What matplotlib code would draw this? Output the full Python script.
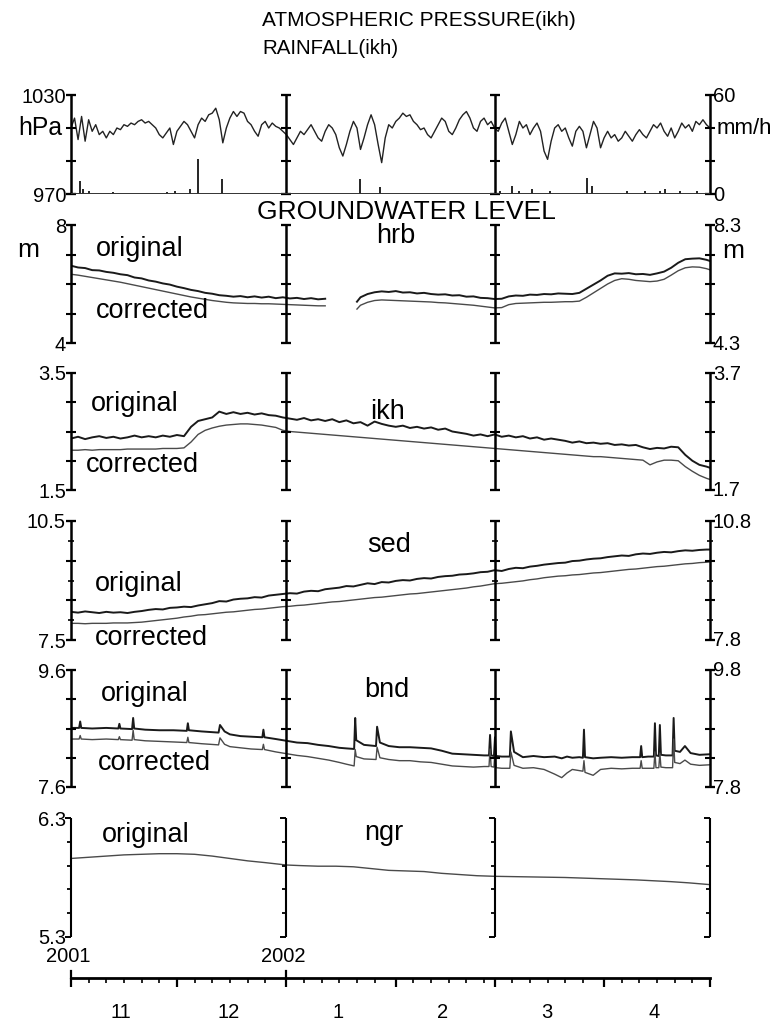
import numpy as np
import matplotlib
matplotlib.use("Agg")
import matplotlib.pyplot as plt

plt.rcParams['font.family'] = ['Liberation Sans', 'DejaVu Sans']

# ---------------- data (days since 2001-11-01) ----------------
pressure_days = list(range(182))
pressure_hpa = [1010,1016,1003,1017,1002,1015,1008,1012,1006,1008,
                1004,1008,1006,1010,1009,1012,1011,1013,1012,1014,
                1015,1013,1014,1012,1010,1006,1004,1007,1010,1000,
                1008,1011,1014,1012,1008,1004,1012,1016,1014,1018,
                1019,1022,1015,1001,1010,1016,1020,1017,1020,1019,
                1014,1012,1008,1005,1012,1014,1010,1013,1011,1010,
                1008,1006,1003,1000,1004,1008,1006,1009,1012,1008,
                1004,1002,1008,1012,1010,1006,998,993,1000,1008,
                1014,1010,997,1004,1012,1018,1012,1000,989,1004,
                1012,1010,1014,1016,1019,1017,1018,1014,1012,1009,
                1010,1006,1004,1008,1012,1016,1014,1008,1006,1010,
                1015,1018,1020,1016,1010,1008,1014,1016,1012,1014,
                1010,1008,1013,1016,1008,1000,1006,1014,1010,1012,
                1006,1010,1013,1008,996,991,1002,1010,1012,1008,
                1010,1004,999,1008,1011,1008,998,1006,1014,1010,
                998,1004,1008,1004,1006,1002,1004,1008,1005,1002,
                1006,1009,1006,1004,1008,1012,1010,1013,1008,1005,
                1010,1004,1008,1013,1010,1012,1008,1014,1012,1015,
                1012,1010]

rain_days = [2.5, 3.5, 5, 11.8, 27.3, 29.5, 33.7, 36.1, 42.9, 81.8, 87.5, 121.5,
             125, 127, 130.7, 135.7, 146.3, 147.7, 157.6, 162.6, 166.8, 168.2, 172.5, 177.4]
rain_mm = [8, 3, 2, 1, 1, 2, 3, 21, 9, 9, 4, 2, 5, 2, 3, 2, 10, 5, 2, 2, 2, 3, 2, 2]

nan = float('nan')
hrb_days = [0,2,4,6,8,10,12,14,16,18,20,22,24,26,28,30,32,34,36,38,40,42,44,46,48,50,
            52,54,56,58,60,62,64,66,68,70,72,76,81,82,84,86,88,90,92,94,96,98,100,102,
            104,106,108,110,112,114,116,118,120,122,124,126,128,130,132,134,136,138,140,
            142,144,146,148,150,152,154,156,158,160,162,164,166,168,170,172,174,176,178,180,181]
hrb_original = [6.62,6.56,6.54,6.47,6.46,6.41,6.38,6.33,6.30,6.22,6.19,6.12,6.08,6.02,5.98,5.91,
                5.86,5.80,5.76,5.70,5.67,5.62,5.60,5.57,5.59,5.55,5.58,5.54,5.57,5.52,5.55,5.51,
                5.53,5.49,5.52,5.48,5.50,nan,5.40,5.55,5.66,5.72,5.75,5.73,5.76,5.71,5.72,5.68,
                5.70,5.66,5.64,5.65,5.61,5.62,5.57,5.58,5.53,5.52,5.49,5.50,5.58,5.61,5.60,5.64,
                5.63,5.66,5.65,5.68,5.67,5.66,5.70,5.84,5.98,6.12,6.28,6.36,6.35,6.37,6.33,6.34,
                6.31,6.36,6.42,6.55,6.72,6.84,6.86,6.87,6.82,6.78]
hrb_corrected = [6.33,6.30,6.26,6.22,6.18,6.14,6.10,6.06,6.01,5.96,5.91,5.86,5.81,5.76,5.71,5.66,
                 5.61,5.56,5.52,5.48,5.44,5.41,5.38,5.36,5.35,5.34,5.34,5.33,5.33,5.32,5.31,5.30,
                 5.29,5.28,5.27,5.26,5.26,nan,5.15,5.28,5.38,5.44,5.46,5.45,5.44,5.43,5.42,5.41,
                 5.40,5.39,5.37,5.36,5.34,5.32,5.30,5.28,5.25,5.22,5.19,5.20,5.30,5.34,5.35,5.36,
                 5.37,5.38,5.38,5.39,5.40,5.40,5.42,5.55,5.70,5.85,6.00,6.12,6.18,6.16,6.12,6.10,
                 6.08,6.10,6.16,6.30,6.45,6.55,6.58,6.57,6.52,6.48]

even_days = list(range(0, 181, 2)) + [181]
ikh_original = [2.38,2.41,2.37,2.40,2.42,2.39,2.41,2.38,2.40,2.43,2.40,2.42,2.40,2.43,2.41,2.44,2.42,
                2.58,2.68,2.71,2.74,2.84,2.80,2.83,2.80,2.82,2.79,2.81,2.78,2.77,2.74,2.72,2.70,
                2.73,2.69,2.71,2.68,2.71,2.66,2.69,2.64,2.66,2.60,2.67,2.63,2.60,2.58,2.60,2.56,
                2.58,2.55,2.57,2.53,2.55,2.50,2.48,2.46,2.43,2.45,2.42,2.45,2.41,2.43,2.40,2.42,
                2.38,2.40,2.36,2.38,2.36,2.34,2.31,2.33,2.30,2.31,2.29,2.30,2.27,2.28,2.26,2.27,
                2.23,2.20,2.22,2.21,2.24,2.23,2.10,2.00,1.93,1.90,1.88]
ikh_corrected = [2.18,2.18,2.19,2.18,2.19,2.19,2.19,2.19,2.20,2.20,2.20,2.20,2.20,2.21,2.21,2.21,2.22,
                 2.32,2.45,2.52,2.56,2.59,2.61,2.62,2.63,2.63,2.62,2.61,2.59,2.57,2.52,2.50,
                 2.49,2.48,2.47,2.46,2.45,2.44,2.43,2.42,2.41,2.40,2.39,2.38,2.37,2.36,2.35,2.34,
                 2.33,2.32,2.31,2.30,2.29,2.28,2.27,2.26,2.25,2.24,2.23,2.22,2.21,
                 2.20,2.19,2.18,2.17,2.16,2.15,2.14,2.13,2.12,2.11,2.10,2.09,2.08,2.07,2.07,2.06,
                 2.05,2.04,2.03,2.02,2.01,1.93,1.98,2.01,2.01,2.00,1.90,1.82,1.75,1.70,1.68]

sed_original = [8.21,8.19,8.22,8.20,8.18,8.21,8.19,8.20,8.18,8.21,8.23,8.26,8.28,8.27,8.31,8.32,
                8.34,8.33,8.37,8.40,8.43,8.48,8.47,8.52,8.54,8.55,8.58,8.57,8.62,8.64,8.66,8.68,
                8.67,8.72,8.74,8.73,8.78,8.80,8.82,8.86,8.85,8.89,8.93,8.91,8.96,8.95,8.99,9.01,
                9.00,9.04,9.06,9.05,9.09,9.11,9.12,9.15,9.16,9.18,9.21,9.22,9.26,9.24,9.29,9.32,
                9.31,9.35,9.37,9.40,9.42,9.44,9.45,9.49,9.50,9.53,9.55,9.56,9.59,9.61,9.63,9.62,
                9.66,9.68,9.67,9.70,9.72,9.71,9.74,9.76,9.75,9.77,9.78,9.78]
sed_corrected = [7.92,7.92,7.91,7.92,7.92,7.92,7.93,7.93,7.93,7.94,7.95,7.97,7.99,8.01,8.03,8.05,
                 8.08,8.10,8.13,8.14,8.16,8.18,8.20,8.21,8.23,8.25,8.27,8.28,8.30,8.32,8.34,8.35,
                 8.37,8.38,8.40,8.42,8.44,8.46,8.47,8.49,8.51,8.53,8.55,8.57,8.58,8.60,8.62,8.64,
                 8.66,8.67,8.69,8.71,8.73,8.75,8.77,8.79,8.81,8.84,8.86,8.89,8.92,8.93,8.95,8.97,
                 8.99,9.02,9.04,9.07,9.09,9.11,9.12,9.14,9.15,9.17,9.19,9.20,9.22,9.24,9.26,9.28,
                 9.29,9.31,9.33,9.35,9.36,9.38,9.40,9.42,9.43,9.45,9.46,9.47]

bnd_days = [0,2.3,2.6,2.9,6,10,13.4,13.7,14.0,17.3,17.6,17.9,21,25,29,32.8,33.1,33.4,37,
            41.8,42.2,43.5,45,48,51,54.2,54.5,54.8,58,61,64,67,70,73,76,78,80.2,80.5,80.8,
            83,86.4,86.7,87.5,90,93,96,99,102,105,108,111,114,117,118.4,118.7,119.0,119.8,
            120.1,120.4,122,124.3,124.6,125.5,128,131,134,137,139,140.5,142,144,145.0,145.3,
            145.6,147.9,150,153,156,159,161.2,161.5,161.8,163.5,165.1,165.4,165.7,166.5,166.8,
            167.1,168.5,170.4,170.7,171.0,172.5,173.9,175.5,178,181]
bnd_original = [8.61,8.61,8.72,8.61,8.60,8.61,8.60,8.68,8.60,8.59,8.78,8.60,8.58,8.57,8.57,8.56,
                8.69,8.57,8.55,8.53,8.66,8.55,8.50,8.47,8.46,8.45,8.58,8.45,8.42,8.39,8.36,8.35,
                8.32,8.30,8.27,8.26,8.25,8.78,8.40,8.32,8.30,8.63,8.36,8.30,8.28,8.28,8.27,8.26,
                8.22,8.17,8.16,8.15,8.14,8.14,8.49,8.14,8.13,8.45,8.13,8.12,8.12,8.55,8.20,8.11,
                8.13,8.11,8.12,8.09,8.12,8.10,8.11,8.10,8.58,8.11,8.09,8.10,8.11,8.10,8.11,8.11,
                8.30,8.11,8.12,8.12,8.69,8.14,8.13,8.66,8.15,8.14,8.14,8.78,8.22,8.20,8.30,8.18,
                8.15,8.16]
bnd_corrected = [8.42,8.42,8.48,8.42,8.41,8.42,8.41,8.46,8.41,8.40,8.57,8.41,8.39,8.38,8.37,8.36,
                 8.45,8.36,8.34,8.32,8.44,8.33,8.29,8.27,8.25,8.24,8.33,8.24,8.20,8.17,8.14,8.12,
                 8.09,8.06,8.02,7.99,7.96,8.24,8.12,8.08,8.07,8.28,8.10,8.07,8.05,8.05,8.03,8.02,
                 7.99,7.96,7.95,7.94,7.95,7.95,8.25,7.95,7.94,8.22,7.93,7.92,7.92,8.20,7.97,7.92,
                 7.93,7.90,7.82,7.76,7.84,7.90,7.88,7.87,8.05,7.85,7.80,7.90,7.92,7.91,7.92,7.92,
                 8.05,7.92,7.92,7.92,8.20,7.93,7.93,8.18,7.94,7.93,7.93,8.42,8.02,8.00,8.06,7.99,
                 7.97,7.98]

ngr_days = [0,5,10,15,20,25,30,35,40,45,50,55,61,65,70,75,80,85,90,95,100,105,110,115,120,
            130,140,150,160,170,175,181]
ngr_original = [5.96,5.97,5.98,5.99,5.995,6.00,6.00,5.995,5.98,5.96,5.94,5.925,5.905,5.90,5.895,
                5.895,5.89,5.875,5.86,5.855,5.85,5.835,5.825,5.815,5.81,5.805,5.80,5.79,5.78,
                5.765,5.755,5.74]

month_labels = ['11', '12', '1', '2', '3', '4']
month_starts = [0, 30, 61, 92, 120, 151, 181]
year_labels = ['2001', '2002']
year_days = [0, 61]
divider_days = [0, 61, 120, 181]

# ---------------- layout helpers ----------------
W, H = 778, 1025
fig = plt.figure(figsize=(W / 100, H / 100), dpi=100)
X0, X1 = 71, 710


def rect(top, bot):
    return [X0 / W, 1 - bot / H, (X1 - X0) / W, (bot - top) / H]


def ftext(x, y, s, size, ha='left', va='center', **kw):
    fig.text(x / W, 1 - y / H, s, fontsize=size, ha=ha, va=va, **kw)


TICK_FS = 14.5
LBL_FS = 19.5


def panel(top, bot, lo, hi, ticks, small_ticks=(), left=None, right=None, style='cross'):
    ax = fig.add_axes(rect(top, bot))
    ax.set_xlim(0, 181)
    ax.set_ylim(lo, hi)
    ax.axis('off')
    for d in divider_days:
        if style == 'cross':
            ax.plot([d, d], [lo, hi], color='k', lw=1.8, clip_on=False, solid_capstyle='butt', zorder=3)
            ax.plot([d] * len(ticks), ticks, ls='none', marker='_', ms=6.5, mew=1.5, color='k',
                    clip_on=False, zorder=3)
            if small_ticks:
                ax.plot([d] * len(small_ticks), small_ticks, ls='none', marker='_', ms=4, mew=1.2,
                        color='k', clip_on=False, zorder=3)
            ax.plot([d, d], [lo, hi], ls='none', marker='_', ms=7.5, mew=1.6, color='k',
                    clip_on=False, zorder=3)
        else:
            ax.plot([d, d], [lo, hi], color='k', lw=1.5, clip_on=False, solid_capstyle='butt', zorder=3)
            ax.plot([d] * len(ticks), ticks, ls='none', marker=0, ms=3, mew=1.3, color='k',
                    clip_on=False, zorder=3)
            ax.plot([d, d], [lo, hi], ls='none', marker=0, ms=4, mew=1.4, color='k',
                    clip_on=False, zorder=3)
    tr = ax.get_yaxis_transform()
    if left:
        for v, s in zip((hi, lo), left):
            ax.annotate(s, xy=(0, v), xycoords=tr, xytext=(-5, -2), textcoords='offset pixels',
                        ha='right', va='center', fontsize=TICK_FS)
    if right:
        for v, s in zip((hi, lo), right):
            ax.annotate(s, xy=(1, v), xycoords=tr, xytext=(3, -1), textcoords='offset pixels',
                        ha='left', va='center', fontsize=TICK_FS)
    return ax


ORIG = dict(color='#1a1a1a', lw=1.4)
CORR = dict(color='#4a4a4a', lw=1.0)

# ---------------- pressure + rainfall ----------------
axp = panel(95, 194, 970, 1030, [1030, 1010, 990, 970], left=('1030', '970'), right=('60', '0'))
axp.plot(pressure_days, pressure_hpa, color='#222222', lw=1.0)
axr = fig.add_axes(rect(95, 194))
axr.set_xlim(0, 181)
axr.set_ylim(0, 60)
axr.axis('off')
axr.vlines(rain_days, 0, rain_mm, color='k', lw=1.2)
axr.axhline(0, color='#333333', lw=1.4)

# ---------------- groundwater panels ----------------
ax = panel(225, 343, 4, 8, [8, 7, 6, 5, 4], left=('8', '4'), right=('8.3', '4.3'))
ax.plot(hrb_days, hrb_original, **ORIG)
ax.plot(hrb_days, hrb_corrected, **CORR)

ax = panel(373, 490, 1.5, 3.5, [3.5, 3.0, 2.5, 2.0, 1.5], left=('3.5', '1.5'), right=('3.7', '1.7'))
ax.plot(even_days, ikh_original, **ORIG)
ax.plot(even_days, ikh_corrected, **CORR)

ax = panel(521, 640, 7.5, 10.5, [10.5, 9.5, 8.5, 7.5], small_ticks=[10, 9, 8],
           left=('10.5', '7.5'), right=('10.8', '7.8'))
ax.plot(even_days, sed_original, **ORIG)
ax.plot(even_days, sed_corrected, **CORR)

ax = panel(670, 787, 7.6, 9.6, [9.6, 9.1, 8.6, 8.1, 7.6], left=('9.6', '7.6'), right=('9.8', '7.8'))
ax.plot(bnd_days, bnd_original, **ORIG)
ax.plot(bnd_days, bnd_corrected, **CORR)

ax = panel(818, 937, 5.3, 6.3, [6.1, 5.9, 5.7, 5.5], left=('6.3', '5.3'), style='bracket')
ax.plot(ngr_days, ngr_original, color='#4a4a4a', lw=1.0)

# ---------------- time axis ----------------
axt = fig.add_axes(rect(968, 978))
axt.set_xlim(0, 181)
axt.set_ylim(0, 10)
for s in ('left', 'right', 'top'):
    axt.spines[s].set_visible(False)
axt.spines['bottom'].set_linewidth(2.0)
axt.set_yticks([])
axt.set_xticks(month_starts)
minor = [s + k for s in month_starts[:-1] for k in (5, 10, 15, 20, 25)]
axt.set_xticks(minor, minor=True)
axt.tick_params(axis='x', which='major', direction='out', length=6.5, width=1.6, labelbottom=False)
axt.tick_params(axis='x', which='minor', direction='out', length=3.5, width=1.2)
axt.patch.set_alpha(0)
for d in year_days:
    axt.plot([d, d], [0, 7], color='k', lw=1.6, clip_on=False)

for d, s in zip(year_days, year_labels):
    ftext(X0 + d * (X1 - X0) / 181 - 3, 957, s, 14.5, ha='center')
for i, s in enumerate(month_labels):
    mid = (month_starts[i] + month_starts[i + 1]) / 2
    ftext(X0 + mid * (X1 - X0) / 181 - 3, 1013, s, 14.5, ha='center')

# ---------------- texts ----------------
ftext(262, 20, 'ATMOSPHERIC PRESSURE(ikh)', 15)
ftext(262, 48, 'RAINFALL(ikh)', 14.8)
ftext(18, 128, 'hPa', 17.8)
ftext(717, 128, 'mm/h', 16)
ftext(257, 212, 'GROUNDWATER LEVEL', 19)
ftext(17, 250, 'm', 19)
ftext(722, 251, 'm', 19)

ftext(376, 236, 'hrb', LBL_FS)
ftext(96, 249, 'original', LBL_FS)
ftext(96, 311, 'corrected', LBL_FS)

ftext(91, 404, 'original', LBL_FS)
ftext(370, 412, 'ikh', LBL_FS)
ftext(86, 465, 'corrected', LBL_FS)

ftext(367, 545, 'sed', LBL_FS)
ftext(95, 584, 'original', LBL_FS)
ftext(95, 638, 'corrected', LBL_FS)

ftext(101, 694, 'original', LBL_FS)
ftext(364, 690, 'bnd', LBL_FS)
ftext(98, 763, 'corrected', LBL_FS)

ftext(102, 835, 'original', LBL_FS)
ftext(364, 833, 'ngr', LBL_FS)

fig.savefig('out.png', dpi=100, facecolor='white')
